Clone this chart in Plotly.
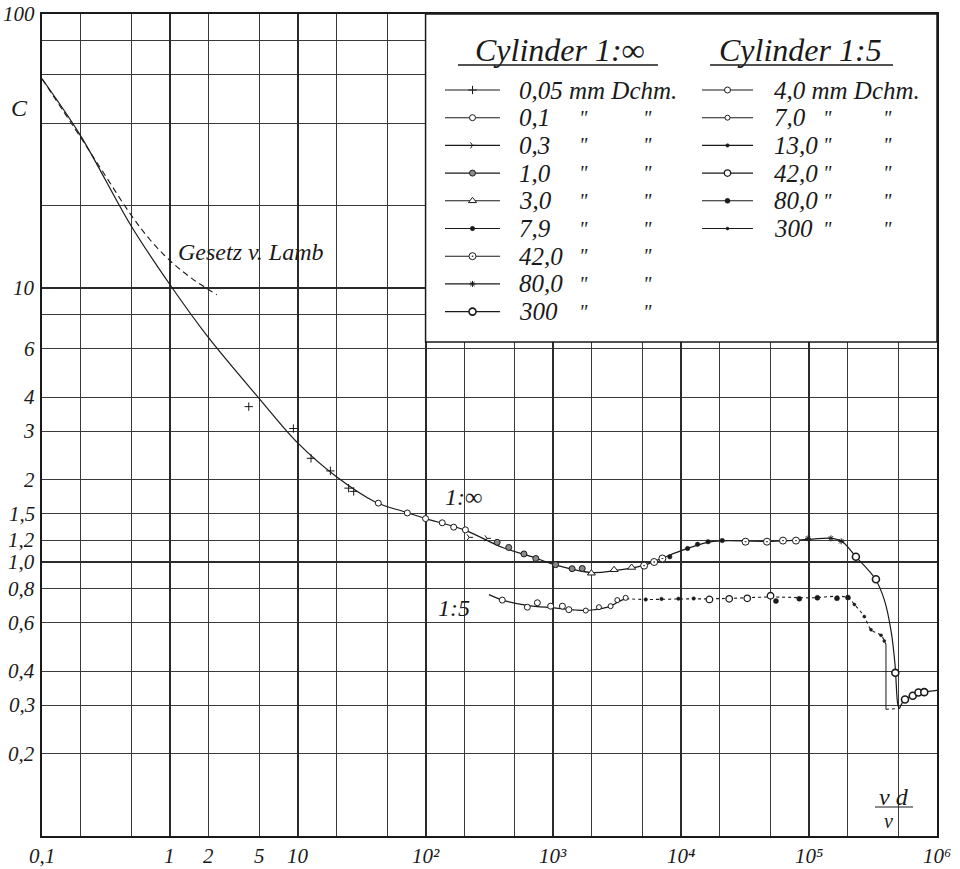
import math
import plotly.graph_objects as go

FONT = "Liberation Serif"
INK = "#1a1a1a"

# ---------------------------------------------------------------
# Mean curves, C versus Reynolds number vd/nu
# ---------------------------------------------------------------
# Cylinder 1:inf, from Stokes range down to the drag crisis minimum
inf_re = [0.1, 0.2, 0.5, 1.0, 2.0, 5.0, 10, 20, 40, 70, 100, 200, 400, 700,
          1000, 2000, 3000, 5000, 7000, 1.0e4, 1.6e4, 2.1e4, 5.0e4, 1.0e5,
          1.5e5, 1.8e5, 2.3e5, 3.3e5, 3.9e5, 4.4e5, 4.7e5, 4.95e5, 5.08e5]
inf_c = [58, 36, 16.8, 10.3, 6.6, 3.95, 2.72, 2.05, 1.66, 1.52, 1.44, 1.31,
         1.13, 1.04, 0.98, 0.915, 0.93, 0.97, 1.03, 1.10, 1.18, 1.195, 1.19,
         1.21, 1.22, 1.19, 1.05, 0.865, 0.72, 0.55, 0.42, 0.30, 0.292]
# Cylinder 1:inf, supercritical recovery
inf2_re = [5.08e5, 5.6e5, 6.5e5, 7.2e5, 8.0e5, 1.0e6]
inf2_c = [0.292, 0.315, 0.325, 0.334, 0.336, 0.34]

# Lamb's law (dashed)
lamb_re = [0.1, 0.2, 0.3, 0.5, 0.7, 1.0, 1.5, 2.33]
lamb_c = [58, 35.5, 26.5, 18.4, 15.0, 12.6, 10.8, 9.45]

# Cylinder 1:5
r5_solid_re = [313, 400, 625, 1000, 1500, 2000, 2800, 3300, 3700]
r5_solid_c = [0.76, 0.726, 0.695, 0.68, 0.668, 0.668, 0.69, 0.72, 0.735]
r5_dot_re = [3700, 5000, 1e4, 2e4, 5e4, 1e5, 2e5, 2.26e5, 2.7e5, 3.05e5,
             3.65e5, 3.99e5]
r5_dot_c = [0.735, 0.73, 0.733, 0.735, 0.745, 0.74, 0.742, 0.70, 0.632,
            0.566, 0.54, 0.50]
r5_drop_re = [3.99e5, 3.99e5]
r5_drop_c = [0.50, 0.29]
r5_tail_re = [3.99e5, 5.08e5]
r5_tail_c = [0.29, 0.292]

# ---------------------------------------------------------------
# Measured points per wire/cylinder diameter (mm)
# ---------------------------------------------------------------
inf_points = {
    "0,05": ([4.14, 9.25, 12.7, 18, 25, 27.4], [3.69, 3.07, 2.39, 2.15, 1.86, 1.81]),
    "0,1": ([42.7, 72, 100, 135, 166, 205], [1.64, 1.51, 1.44, 1.39, 1.34, 1.31]),
    "0,3": ([219, 302], [1.23, 1.22]),
    "1,0": ([363, 447, 588, 728, 1040, 1400, 1680],
            [1.18, 1.13, 1.07, 1.03, 0.978, 0.945, 0.947]),
    "3,0": ([1980, 2980, 4090], [0.91, 0.937, 0.955]),
    "7,9": ([8130, 11200, 13400, 16200, 20900], [1.045, 1.12, 1.16, 1.186, 1.197]),
    "42,0": ([5120, 6130, 7120, 31800, 46800, 62400, 78900],
             [0.97, 1.0, 1.03, 1.186, 1.186, 1.197, 1.197]),
    "80,0": ([98000, 148000, 178000], [1.22, 1.22, 1.19]),
    "300": ([232000, 333000, 472000, 562000, 646000, 716000, 795000],
            [1.045, 0.865, 0.394, 0.315, 0.325, 0.334, 0.335]),
}
r5_points = {
    "4,0": ([398, 625, 749, 951, 1175, 1320], [0.726, 0.684, 0.71, 0.69, 0.69, 0.67]),
    "7,0": ([1790, 2270, 2800, 3160, 3670], [0.665, 0.684, 0.69, 0.726, 0.74]),
    "13,0": ([5270, 7000, 9500, 12500], [0.73, 0.733, 0.735, 0.736]),
    "42,0": ([16600, 23700, 32800, 49900], [0.73, 0.734, 0.737, 0.753]),
    "80,0": ([55000, 83700, 116000, 165000, 201000], [0.72, 0.734, 0.74, 0.737, 0.742]),
    "300": ([226000, 270000, 305000, 365000, 387000], [0.70, 0.632, 0.566, 0.54, 0.515]),
}

# marker style per series: symbol, size, fill, outline width
inf_style = {
    "0,05": ("cross-thin", 6, INK, 1.0),
    "0,1": ("circle", 6, "white", 1.0),
    "0,3": ("y-right-open", 5, INK, 1.0),
    "1,0": ("circle", 6, "#8a8a8a", 1.0),
    "3,0": ("triangle-up", 7, "white", 1.0),
    "7,9": ("circle", 4.5, INK, 0),
    "42,0": ("circle-dot", 7, "white", 1.0),
    "80,0": ("asterisk-open", 5, INK, 1.0),
    "300": ("circle", 7, "white", 1.6),
}
r5_style = {
    "4,0": ("circle", 6, "white", 1.0),
    "7,0": ("circle", 5, "white", 1.0),
    "13,0": ("circle", 3.5, INK, 0),
    "42,0": ("circle", 6.5, "white", 1.3),
    "80,0": ("circle", 5, INK, 0),
    "300": ("circle", 3, INK, 0),
}

# axis ticks and labels
x_grid_major = [0.1, 1, 10, 1e2, 1e3, 1e4, 1e5, 1e6]
x_grid_minor = [m * 10 ** e for e in range(-1, 6) for m in (2, 5)]
x_label_vals = [0.1, 1, 2, 5, 10, 1e2, 1e3, 1e4, 1e5, 1e6]
x_label_text = ["0,1", "1", "2", "5", "10", "10²", "10³", "10⁴", "10⁵", "10⁶"]
y_grid_major = [0.1, 1, 10, 100]
y_grid_minor = [0.2, 0.3, 0.4, 0.6, 0.8, 1.2, 1.5, 2, 3, 4, 6, 8, 20, 40, 60, 80]
y_label_vals = [100, 10, 6, 4, 3, 2, 1.5, 1.2, 1.0, 0.8, 0.6, 0.4, 0.3, 0.2]
y_label_text = ["100", "10", "6", "4", "3", "2", "1,5", "1,2", "1,0", "0,8",
                "0,6", "0,4", "0,3", "0,2"]

# legend panel spans Re 1e2..1e6 and C from its lower edge up to 100
panel_re = (1e2, 1e6)
panel_c = (6.35, 100)

# ---------------------------------------------------------------
# plot-area frame in pixels; legend items are placed in paper units
# ---------------------------------------------------------------
W, H = 960, 869
L, R, T, B = 42, 937, 14, 836
X_RANGE = (-1, 6)
Y_RANGE = (-1, 2)


def px(x):
    return (x - L) / (R - L)


def py(y):
    return 1 - (y - T) / (B - T)


fig = go.Figure()


def marker(style):
    sym, size, fill, lw = style
    return dict(symbol=sym, size=size, color=fill,
                line=dict(color=INK, width=lw if lw else 0.5))


line_kw = dict(color=INK, width=1.2)
fig.add_trace(go.Scatter(x=lamb_re, y=lamb_c, mode="lines",
                         line=dict(color=INK, width=1.1, dash="6px,4px"),
                         line_shape="spline", hoverinfo="skip"))
fig.add_trace(go.Scatter(x=inf_re, y=inf_c, mode="lines", line=line_kw,
                         line_shape="spline", hoverinfo="skip"))
fig.add_trace(go.Scatter(x=inf2_re, y=inf2_c, mode="lines", line=line_kw,
                         line_shape="spline", hoverinfo="skip"))
fig.add_trace(go.Scatter(x=r5_solid_re, y=r5_solid_c, mode="lines", line=line_kw,
                         line_shape="spline", hoverinfo="skip"))
fig.add_trace(go.Scatter(x=r5_dot_re, y=r5_dot_c, mode="lines",
                         line=dict(color=INK, width=1.1, dash="dot"),
                         line_shape="spline", hoverinfo="skip"))
fig.add_trace(go.Scatter(x=r5_drop_re, y=r5_drop_c, mode="lines",
                         line=dict(color=INK, width=1.0), hoverinfo="skip"))
fig.add_trace(go.Scatter(x=r5_tail_re, y=r5_tail_c, mode="lines",
                         line=dict(color=INK, width=1.0, dash="dot"),
                         hoverinfo="skip"))

for key, (xs, ys) in inf_points.items():
    fig.add_trace(go.Scatter(x=xs, y=ys, mode="markers",
                             marker=marker(inf_style[key]), hoverinfo="skip"))
for key, (xs, ys) in r5_points.items():
    fig.add_trace(go.Scatter(x=xs, y=ys, mode="markers",
                             marker=marker(r5_style[key]), hoverinfo="skip"))

# ---------------------------------------------------------------
# legend panel (samples drawn on an overlay axis spanning the plot area)
# ---------------------------------------------------------------
annotations = []
shapes = []
shapes.append(dict(type="rect", xref="x", yref="y",
                   x0=panel_re[0], x1=panel_re[1], y0=panel_c[0], y1=panel_c[1],
                   fillcolor="white", line=dict(color=INK, width=1.5),
                   layer="between"))


def text(t, x, y, size, xanchor="center", **kw):
    d = dict(text=t, xref="paper", yref="paper", x=x, y=y, showarrow=False,
             xanchor=xanchor, yanchor="middle",
             font=dict(family=FONT, size=size, color=INK, style="italic"))
    d.update(kw)
    return d


legend_cols = [
    dict(title="Cylinder 1:∞", title_x=559, ul=(458, 658), keys=list(inf_points),
         styles=inf_style, lx=(445, 500), tx=517, ditto=(583, 647)),
    dict(title="Cylinder 1:5", title_x=800, ul=(710, 893), keys=list(r5_points),
         styles=r5_style, lx=(702, 753), tx=772, ditto=(827, 887)),
]
row_y0, row_dy = 90, 27.7
for col in legend_cols:
    annotations.append(text(col["title"], px(col["title_x"]), py(50), 32))
    shapes.append(dict(type="line", xref="paper", yref="paper",
                       x0=px(col["ul"][0]), x1=px(col["ul"][1]), y0=py(65), y1=py(65),
                       line=dict(color=INK, width=1.6), layer="above"))
    for i, key in enumerate(col["keys"]):
        yy = py(row_y0 + i * row_dy)
        x0, x1 = px(col["lx"][0]), px(col["lx"][1])
        fig.add_trace(go.Scatter(x=[x0, x1], y=[yy, yy], mode="lines",
                                 line=dict(color=INK, width=1.1),
                                 xaxis="x2", yaxis="y2", hoverinfo="skip"))
        fig.add_trace(go.Scatter(x=[(x0 + x1) / 2], y=[yy], mode="markers",
                                 marker=marker(col["styles"][key]),
                                 xaxis="x2", yaxis="y2", hoverinfo="skip"))
        label = key + " mm Dchm." if i == 0 else key
        annotations.append(text(label, px(col["tx"]), yy, 25, xanchor="left"))
        if i > 0:
            for dx in col["ditto"]:
                annotations.append(text('"', px(dx), yy, 20))

# ---------------------------------------------------------------
# axis labels and curve captions
# ---------------------------------------------------------------
tick_font = dict(family=FONT, size=21, color=INK, style="italic")
for v, t in zip(x_label_vals, x_label_text):
    xf = (math.log10(v) - X_RANGE[0]) / (X_RANGE[1] - X_RANGE[0])
    annotations.append(dict(text=t, xref="paper", yref="paper", x=xf,
                            y=py(856), showarrow=False, xanchor="center",
                            yanchor="middle", font=tick_font))
for v, t in zip(y_label_vals, y_label_text):
    yf = (math.log10(v) - Y_RANGE[0]) / (Y_RANGE[1] - Y_RANGE[0])
    annotations.append(dict(text=t, xref="paper", yref="paper", x=px(37),
                            y=yf, showarrow=False, xanchor="right",
                            yanchor="middle", font=tick_font))

annotations += [
    text("C", px(19), py(108), 24),
    text("Gesetz v. Lamb", px(251), py(252), 24),
    text("1:∞", px(463), py(497), 24),
    text("1:5", px(454), py(608), 24),
    text("v d", px(894), py(797), 24),
    text("ν", px(888), py(821), 20),
]
shapes.append(dict(type="line", xref="paper", yref="paper", x0=px(875), x1=px(913),
                   y0=py(807), y1=py(807), line=dict(color=INK, width=1.2),
                   layer="above"))

axis_common = dict(type="log", showticklabels=False, ticks="", zeroline=False,
                   showline=True, mirror=True, linecolor=INK, linewidth=2,
                   gridcolor="#2b2b2b", gridwidth=2)
fig.update_layout(
    width=W, height=H,
    margin=dict(l=L, r=W - R, t=T, b=H - B),
    paper_bgcolor="white", plot_bgcolor="white",
    showlegend=False,
    xaxis=dict(range=list(X_RANGE), tickmode="array", tickvals=x_grid_major,
               minor=dict(tickmode="array", tickvals=x_grid_minor, showgrid=True,
                          gridcolor="#3a3a3a", gridwidth=1, ticks=""),
               **axis_common),
    yaxis=dict(range=list(Y_RANGE), tickmode="array", tickvals=y_grid_major,
               minor=dict(tickmode="array", tickvals=y_grid_minor, showgrid=True,
                          gridcolor="#3a3a3a", gridwidth=1, ticks=""),
               **axis_common),
    xaxis2=dict(overlaying="x", range=[0, 1], visible=False, fixedrange=True),
    yaxis2=dict(overlaying="y", range=[0, 1], visible=False, fixedrange=True),
    annotations=annotations,
    shapes=shapes,
)

fig.write_html("out.html")
